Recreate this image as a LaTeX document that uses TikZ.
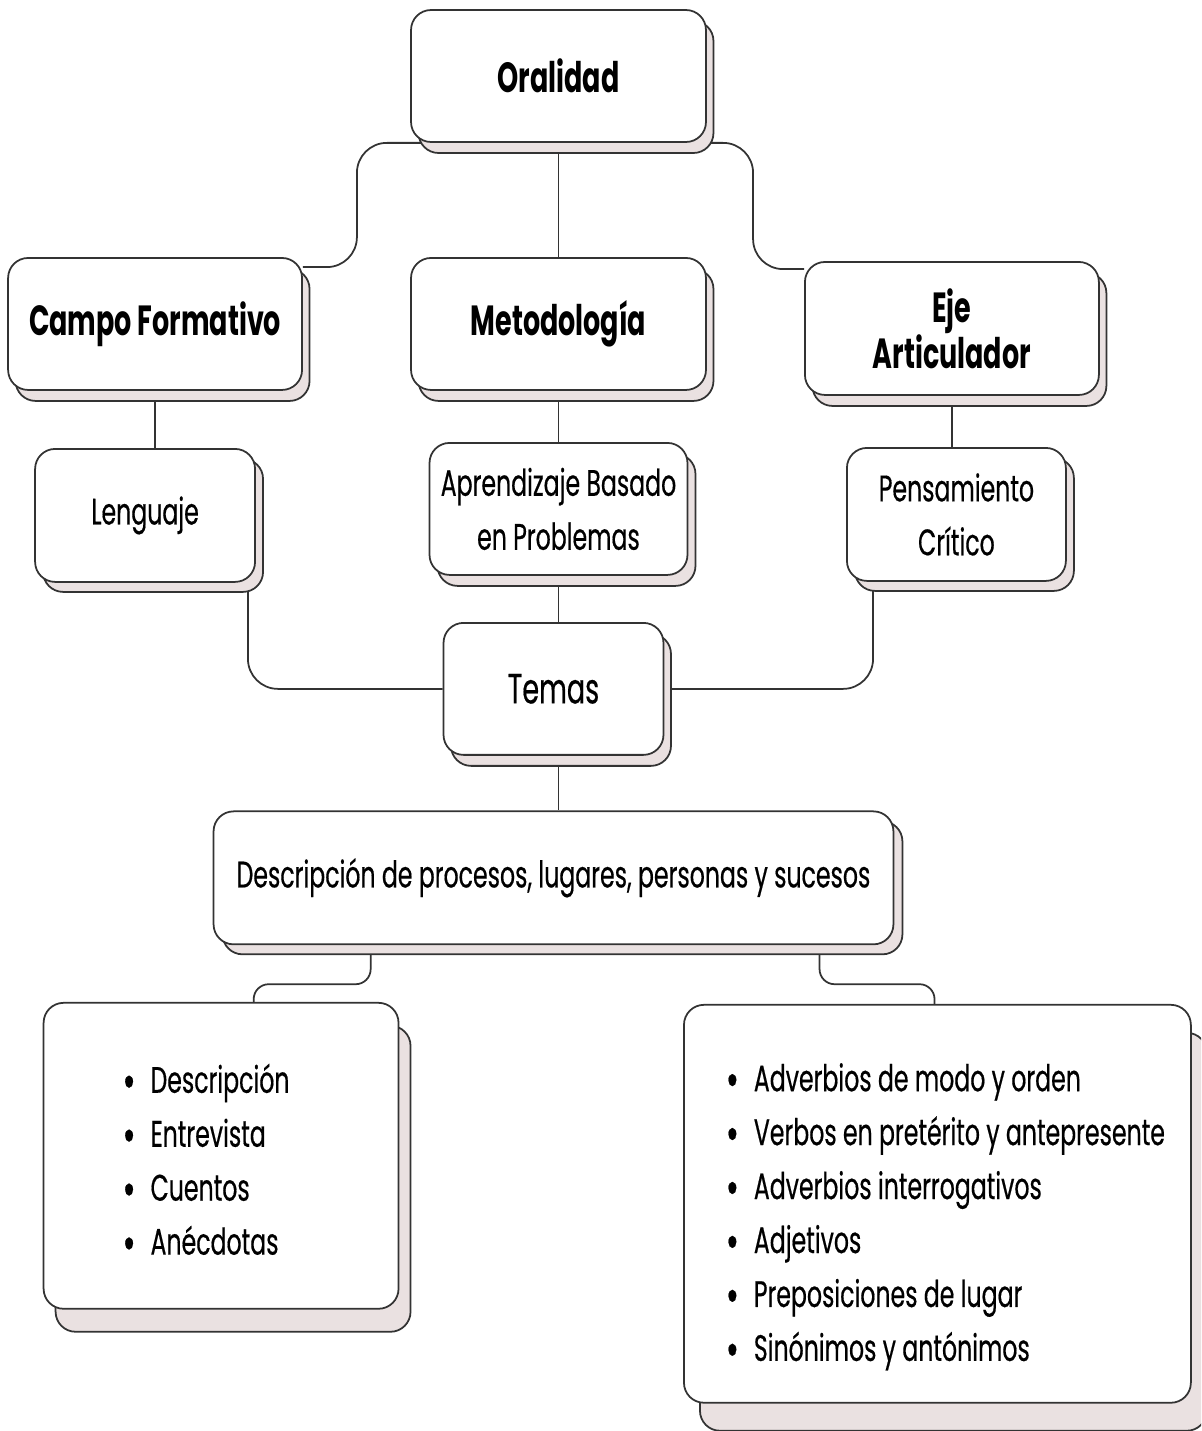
\documentclass[tikz,border=0pt]{standalone}
\usepackage{fontspec}
\setmainfont{Poppins}[FakeStretch=0.64, UprightFeatures={FakeBold=0.4}]
\usetikzlibrary{positioning, shadows, backgrounds}

\definecolor{linegray}{RGB}{51,51,51}
\definecolor{shadowpink}{RGB}{234,225,225}

\newcommand{\listdot}{\raisebox{-3pt}{\fontsize{28pt}{28pt}\selectfont\textbullet}\hspace{0.3cm}}

\tikzset{
  card/.style={draw=linegray, line width=1pt, fill=white, rounded corners=0.4cm,
    inner sep=0pt, align=center, font=\fontsize{21pt}{30.7pt}\selectfont},
  headcard/.style={card, font=\fontsize{24pt}{26pt}\selectfont\bfseries},
  backcard/.style 2 args={general shadow={shadow xshift=#1, shadow yshift=#2,
    fill=shadowpink, draw=linegray, line width=1pt}},
  listtext/.style={inner sep=0pt, align=left, font=\fontsize{21pt}{30.7pt}\selectfont},
  link/.style={draw=linegray, line width=1pt, rounded corners=0.6cm},
}

\begin{document}
\begin{tikzpicture}[x=0.02cm, y=-0.02cm]
    \clip (0,0) rectangle (1201,1431);

    % Nodes
    \node[headcard, backcard={0.15cm}{-0.22cm}, minimum width=5.9cm, minimum height=2.64cm]
        (oral) at (558.5,76) {Oralidad};
    \node[headcard, backcard={0.15cm}{-0.22cm}, minimum width=5.9cm, minimum height=2.64cm,
        below of=oral, node distance=4.96cm] (metod) {Metodología};
    \node[headcard, backcard={0.15cm}{-0.22cm}, minimum width=5.88cm, minimum height=2.64cm,
        left of=metod, node distance=8.07cm] (campo) {Campo Formativo};
    \node[headcard, backcard={0.15cm}{-0.22cm}, minimum width=5.88cm, minimum height=2.66cm,
        right of=metod, node distance=7.87cm, yshift=-0.09cm] (eje) {Eje\\Articulador};
    \node[card, backcard={0.16cm}{-0.2cm}, minimum width=4.4cm, minimum height=2.66cm,
        below of=campo, node distance=3.83cm, xshift=-0.2cm] (leng) {Lenguaje};
    \node[card, backcard={0.16cm}{-0.22cm}, minimum width=5.16cm, minimum height=2.64cm,
        below of=metod, node distance=3.7cm] (abp) {Aprendizaje Basado\\en Problemas};
    \node[card, backcard={0.16cm}{-0.2cm}, minimum width=4.38cm, minimum height=2.66cm,
        below of=eje, node distance=3.72cm, xshift=0.09cm] (pens) {Pensamiento\\Crítico};
    \node[card, backcard={0.15cm}{-0.22cm}, minimum width=4.4cm, minimum height=2.64cm,
        below of=abp, node distance=3.6cm, xshift=-0.1cm, font=\fontsize{24pt}{30pt}\selectfont]
        (temas) {Temas};
    \node[card, backcard={0.18cm}{-0.2cm}, minimum width=13.6cm, minimum height=2.66cm,
        below of=temas, node distance=3.78cm] (desc)
        {Descripción de procesos, lugares, personas y sucesos};
    \node[card, backcard={0.24cm}{-0.46cm}, minimum width=7.1cm, minimum height=6.12cm,
        below of=desc, node distance=5.56cm, xshift=-6.65cm] (lista) {};
    \node[card, backcard={0.32cm}{-0.56cm}, minimum width=10.14cm, minimum height=7.96cm,
        below of=desc, node distance=6.52cm, xshift=7.68cm] (listb) {};

    % List items
    \node[listtext] (itemsa) at ([xshift=-0.3cm, yshift=-0.12cm]lista.center)
        {\listdot Descripción\\
         \listdot Entrevista\\
         \listdot Cuentos\\
         \listdot Anécdotas};
    \node[listtext] (itemsb) at ([xshift=0.16cm, yshift=-0.26cm]listb.center)
        {\listdot Adverbios de modo y orden\\
         \listdot Verbos en pretérito y antepresente\\
         \listdot Adverbios interrogativos\\
         \listdot Adjetivos\\
         \listdot Preposiciones de lugar\\
         \listdot Sinónimos y antónimos};

    % Lines
    \begin{scope}[on background layer]
    \draw[link] (oral) -- (metod);
    \draw[link] ([xshift=0.4cm]oral.south west)
        -| ([xshift=1.08cm, yshift=-0.2cm]campo.north east) -- ([yshift=-0.2cm]campo.north east);
    \draw[link] (oral.south east)
        -| ([xshift=-1.02cm, yshift=-0.16cm]eje.north west) -- ([yshift=-0.16cm]eje.north west);
    \draw[link] (campo) -- (campo |- leng.north);
    \draw[link] (metod) -- (abp);
    \draw[link] (eje) -- (eje |- pens.north);
    \draw[link] ([xshift=-0.16cm]leng.south east) |- (temas.west);
    \draw[link] ([xshift=0.54cm]pens.south west) |- (temas.east);
    \draw[link] (abp) -- (abp |- temas.north);
    \draw[link] ([xshift=0.1cm]temas.south) -- ([xshift=0.1cm]temas.south |- desc.north);
    \draw[link, rounded corners=0.3cm] ([xshift=3.16cm]desc.south west)
        -- ++(0,39) -| ([xshift=4.22cm]lista.north west);
    \draw[link, rounded corners=0.3cm] ([xshift=12.14cm]desc.south west)
        -- ++(0,39) -| ([xshift=5.03cm]listb.north west);
    \end{scope}
\end{tikzpicture}
\end{document}
